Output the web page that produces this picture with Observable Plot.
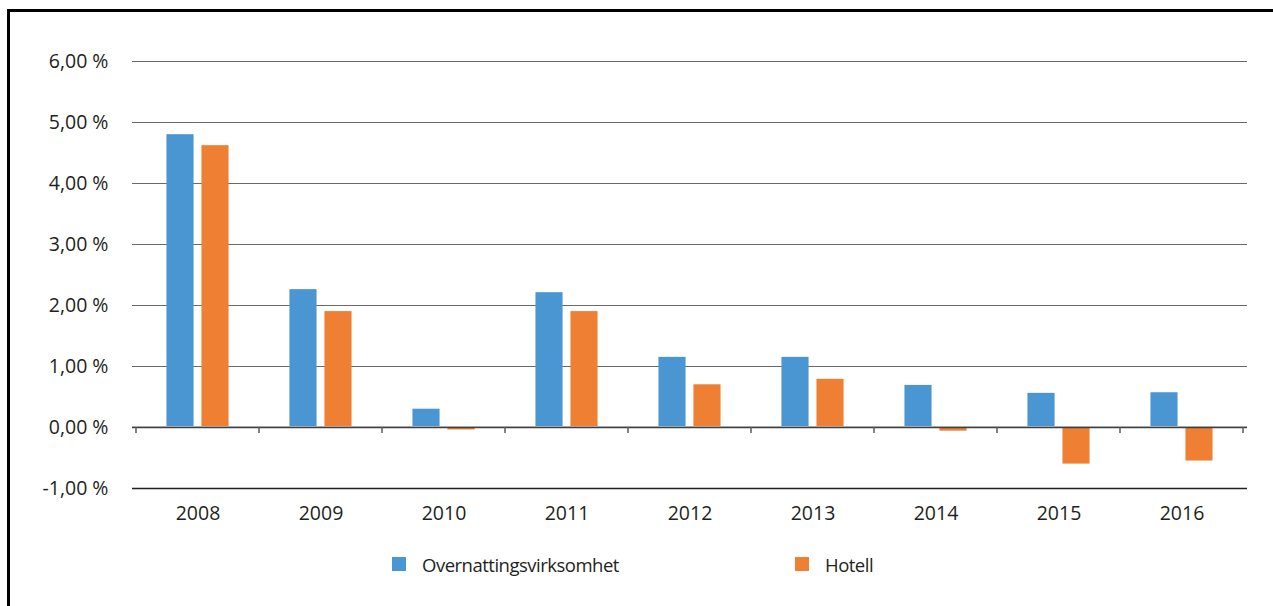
<!DOCTYPE html>
<html><head><meta charset="utf-8">
<script src="https://cdn.jsdelivr.net/npm/d3@7"></script>
<script src="https://cdn.jsdelivr.net/npm/@observablehq/plot@0.6"></script>
<style>
body{margin:0;background:#fff;font-family:"Open Sans",sans-serif;}
#wrap{position:relative;width:1273px;height:606px;overflow:hidden;}
#bl{position:absolute;left:7px;top:9px;width:3px;height:597px;background:#000}
#bt{position:absolute;left:7px;top:9px;width:1266px;height:3px;background:#000}
#chart{position:absolute;left:0;top:0}
#legend{position:absolute;left:0;top:548px;width:1273px;height:32px;}
.item{position:absolute;top:0;display:flex;align-items:center;height:32px;font-size:18.5px;letter-spacing:-0.5px;color:#231f20;white-space:nowrap}
.sw{width:14px;height:14px;margin-right:16px;flex:none}
</style></head><body>
<div id="wrap"><div id="chart"></div><div id="legend"></div><div id="bl"></div><div id="bt"></div></div>
<script>
const years = ["2008","2009","2010","2011","2012","2013","2014","2015","2016"];
const overnatting = [4.80, 2.26, 0.30, 2.21, 1.15, 1.15, 0.69, 0.56, 0.57];
const hotell = [4.62, 1.90, -0.04, 1.90, 0.70, 0.79, -0.06, -0.60, -0.55];
const seriesNames = ["Overnattingsvirksomhet", "Hotell"];
const seriesColors = ["#4a96d2", "#ee7f33"];
const yTicks = [-1, 0, 1, 2, 3, 4, 5, 6];

const W = 1273, H = 540, ML = 132, MR = 26, MT = 61, MB = 52;
const step = (W - ML - MR) / years.length;
const barW = 28, gap = 7;
const innerIn = step / 2 - gap / 2 - barW;
const outerIn = step / 2 + gap / 2;

const rowsA = years.map((y, i) => ({year: y, value: overnatting[i]}));
const rowsB = years.map((y, i) => ({year: y, value: hotell[i]}));

function boundaryTicks(index, scales, values, dims) {
  const {x, y} = scales;
  let bw = typeof x.bandwidth === "function" ? x.bandwidth() : x.bandwidth;
  if (!(bw > 0)) bw = (dims.width - dims.marginLeft - dims.marginRight) / years.length;
  const y0 = y(0);
  const g = d3.create("svg:g").attr("stroke", "#5a5a5a").attr("stroke-width", 1.5);
  const xs = years.map(d => x(d));
  xs.push(x(years[years.length - 1]) + bw);
  for (const xx of xs) g.append("line").attr("x1", xx).attr("x2", xx).attr("y1", y0).attr("y2", y0 + 6);
  return g.node();
}

const fmt = d => d.toFixed(2).replace(".", ",") + " %";

const chart = Plot.plot({
  width: W, height: H,
  marginLeft: ML, marginRight: MR, marginTop: MT, marginBottom: MB,
  style: {fontSize: "19.5px", fontFamily: "'Open Sans', sans-serif", color: "#231f20", background: "transparent"},
  x: {domain: years, padding: 0, tickSize: 0, tickPadding: 18, label: null},
  y: {domain: [-1, 6], ticks: yTicks, tickFormat: fmt, tickSize: 0, tickPadding: 24, label: null},
  marks: [
    Plot.ruleY(yTicks.filter(d => d > 0), {stroke: "#6a6a6a", strokeWidth: 1.2}),
    Plot.ruleY([-1], {stroke: "#231f20", strokeWidth: 1.5}),
    Plot.barY(rowsA, {x: "year", y: "value", fill: seriesColors[0], insetLeft: innerIn, insetRight: outerIn}),
    Plot.barY(rowsB, {x: "year", y: "value", fill: seriesColors[1], insetLeft: outerIn, insetRight: innerIn}),
    Plot.ruleY([0], {stroke: "#c8c8c8", strokeWidth: 1, dy: -1}),
    Plot.ruleY([0], {stroke: "#404040", strokeWidth: 1.5}),
    boundaryTicks
  ]
});
document.getElementById("chart").appendChild(chart);

const legend = document.getElementById("legend");
const legendX = [392, 795];
seriesNames.forEach((name, i) => {
  const it = document.createElement("div");
  it.className = "item";
  it.style.left = legendX[i] + "px";
  const sw = document.createElement("span");
  sw.className = "sw";
  sw.style.background = seriesColors[i];
  const tx = document.createElement("span");
  tx.textContent = name;
  it.appendChild(sw); it.appendChild(tx);
  legend.appendChild(it);
});
</script>
</body></html>
